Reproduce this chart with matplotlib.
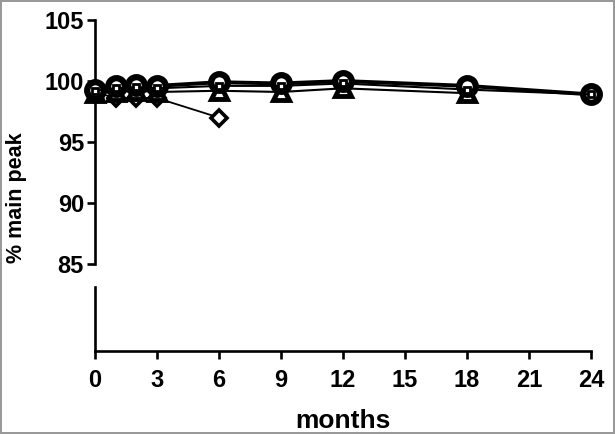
import matplotlib.pyplot as plt
import numpy as np

plt.rcParams['font.family'] = ['Liberation Sans', 'DejaVu Sans']
plt.rcParams['font.weight'] = 'bold'

months = [0, 1, 2, 3, 6, 9, 12, 18, 24]
circles = [99.3, 99.6, 99.7, 99.6, 99.9, 99.8, 100.0, 99.6, 98.9]
squares = [99.2, 99.4, 99.5, 99.4, 99.6, 99.6, 99.8, 99.3, 98.9]
months_tri = [0, 1, 2, 3, 6, 9, 12, 18]
triangles = [99.0, 99.1, 99.2, 99.1, 99.2, 99.1, 99.4, 99.0]
months_dia = [0, 1, 2, 3, 6]
diamonds = [99.1, 98.6, 98.6, 98.6, 97.0]

xticks = [0, 3, 6, 9, 12, 15, 18, 21, 24]
yticks = [85, 90, 95, 100, 105]

fig = plt.figure(figsize=(6.15, 4.34), dpi=100)
fig.patch.set_edgecolor('#999999')
fig.patch.set_linewidth(1.5)

# upper part of the broken y axis
ax = fig.add_axes([95/615, (434-264)/434, 496/615, 244/434])
# lower part, carries the x axis
ax2 = fig.add_axes([95/615, (434-351)/434, 496/615, 64/434])

lw = 1.9
for a in (ax, ax2):
    a.set_xlim(0, 24)
    a.patch.set_alpha(0)
    for s in ['top', 'right']:
        a.spines[s].set_visible(False)
    a.spines['left'].set_linewidth(lw)
    a.spines['bottom'].set_linewidth(lw)

ax.spines['bottom'].set_visible(False)
ax.set_ylim(85, 105)
ax.set_yticks(yticks)
ax.set_xticks([])
ax.tick_params(axis='y', length=6, width=lw, labelsize=17, pad=2)
ax.set_ylabel('% main peak', fontsize=15.5, fontweight='bold')
ax.yaxis.set_label_coords(-0.138, 0.27)

ax2.set_ylim(0, 10)
ax2.set_yticks([])
ax2.set_xticks(xticks)
ax2.tick_params(axis='x', length=6, width=lw, labelsize=17, pad=7)
ax2.set_xlabel('months', fontsize=19, fontweight='bold', labelpad=12)

mk = dict(color='black', markerfacecolor='white', markeredgecolor='black',
          clip_on=False)
ax.plot(months_dia, diamonds, marker='D', markersize=8, markeredgewidth=2.6,
        linewidth=1.3, zorder=3, **mk)
ax.plot(months_tri, triangles, marker='^', markersize=12, markeredgewidth=3.5,
        linewidth=1.5, zorder=4, **mk)
ax.plot(months, circles, marker='o', markersize=12, markeredgewidth=4.5,
        linewidth=2.8, zorder=5, **mk)
ax.plot(months, squares, marker='s', markersize=5, markeredgewidth=2,
        linewidth=1.5, zorder=6, **mk)

fig.savefig('out.png', dpi=100)
